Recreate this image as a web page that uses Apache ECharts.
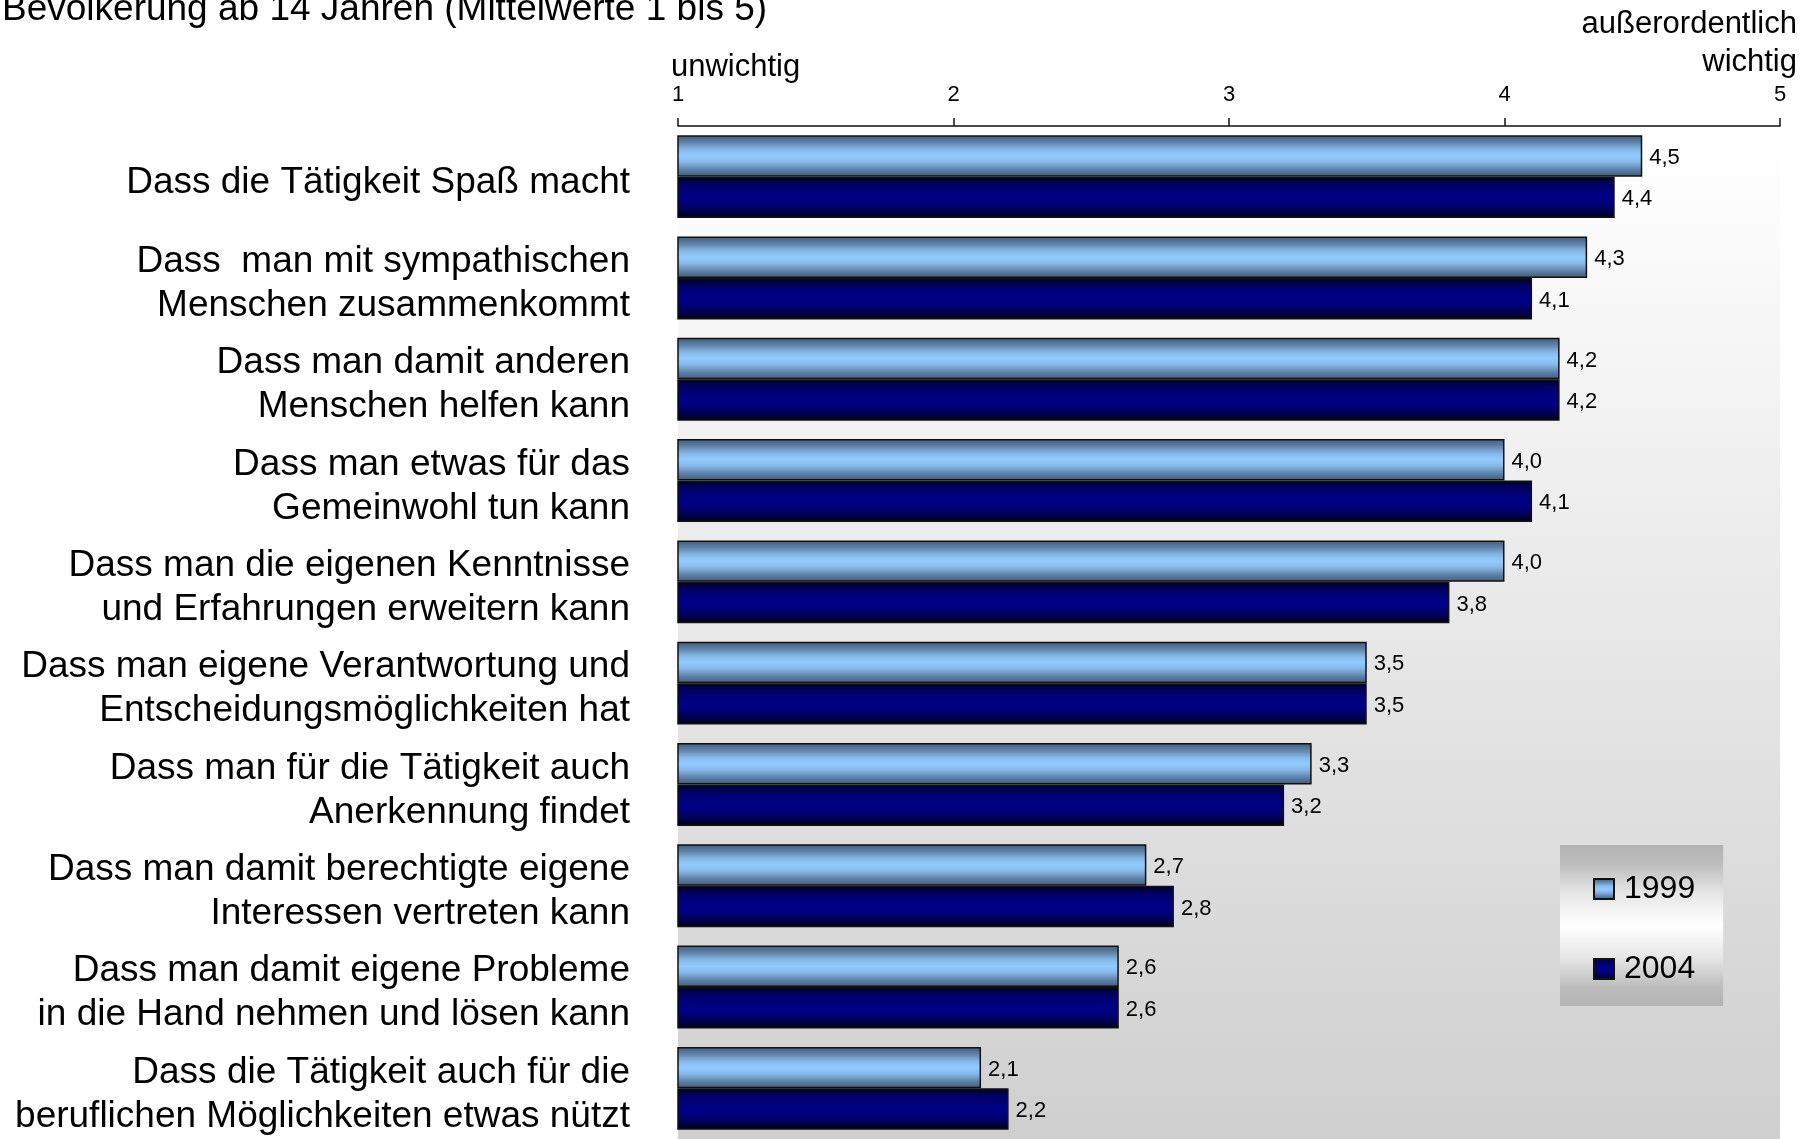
<!DOCTYPE html>
<html>
<head>
<meta charset="utf-8">
<script src="https://cdn.jsdelivr.net/npm/echarts@6/dist/echarts.min.js"></script>
<style>
html,body{margin:0;padding:0;background:#fff;}
#chart{width:1812px;height:1139px;}
</style>
</head>
<body>
<div id="chart"></div>
<script>
const categories = [
  "Dass die Tätigkeit Spaß macht",
  "Dass  man mit sympathischen\nMenschen zusammenkommt",
  "Dass man damit anderen\nMenschen helfen kann",
  "Dass man etwas für das\nGemeinwohl tun kann",
  "Dass man die eigenen Kenntnisse\nund Erfahrungen erweitern kann",
  "Dass man eigene Verantwortung und\nEntscheidungsmöglichkeiten hat",
  "Dass man für die Tätigkeit auch\nAnerkennung findet",
  "Dass man damit berechtigte eigene\nInteressen vertreten kann",
  "Dass man damit eigene Probleme\nin die Hand nehmen und lösen kann",
  "Dass die Tätigkeit auch für die\nberuflichen Möglichkeiten etwas nützt"
];
const values1999 = [4.5, 4.3, 4.2, 4.0, 4.0, 3.5, 3.3, 2.7, 2.6, 2.1];
const values2004 = [4.4, 4.1, 4.2, 4.1, 3.8, 3.5, 3.2, 2.8, 2.6, 2.2];
const seriesNames = ["1999", "2004"];
const axisMin = 1, axisMax = 5, axisInterval = 1;
const titleText = "Bevölkerung ab 14 Jahren (Mittelwerte 1 bis 5)";
const lowLabel = "unwichtig";
const highLabel = ["außerordentlich", "wichtig"];

const FONT = "'Liberation Sans', Arial, Helvetica, sans-serif";
const G = echarts.graphic.LinearGradient;

const fill1999 = new G(0, 0, 0, 1, [
  {offset: 0, color: '#445b78'},
  {offset: 0.15, color: '#5b7ca2'},
  {offset: 0.35, color: '#85b8e8'},
  {offset: 0.5, color: '#93cbff'},
  {offset: 0.65, color: '#85b8e8'},
  {offset: 0.85, color: '#5b7ca2'},
  {offset: 1, color: '#445b78'}
]);
const fill2004 = new G(0, 0, 0, 1, [
  {offset: 0, color: '#000026'},
  {offset: 0.2, color: '#000066'},
  {offset: 0.4, color: '#000082'},
  {offset: 0.6, color: '#000082'},
  {offset: 0.8, color: '#00005a'},
  {offset: 1, color: '#000016'}
]);

const fmt = p => p.value.toFixed(1).replace('.', ',');

const chart = echarts.init(document.getElementById('chart'), null, {renderer: 'canvas'});
chart.setOption({
  animation: false,
  backgroundColor: '#ffffff',
  textStyle: {fontFamily: FONT},
  grid: {
    left: 678, top: 126, width: 1102, height: 1017,
    show: true, borderWidth: 0,
    backgroundColor: new G(0, 0, 0, 1, [
      {offset: 0, color: '#ffffff'},
      {offset: 0.06, color: '#fdfdfd'},
      {offset: 1, color: '#cfcfcf'}
    ])
  },
  legend: {
    orient: 'vertical',
    left: 1560, top: 845,
    padding: [28, 28, 21, 33],
    itemWidth: 20, itemHeight: 20, itemGap: 48,
    icon: 'rect',
    data: seriesNames,
    textStyle: {fontSize: 32, color: '#000', fontFamily: FONT, lineHeight: 32, padding: [0,0,0,5]},
    backgroundColor: new G(0, 0, 0, 1, [
      {offset: 0, color: '#b3b3b3'},
      {offset: 0.12, color: '#bdbdbd'},
      {offset: 0.3, color: '#e6e6e6'},
      {offset: 0.5, color: '#ffffff'},
      {offset: 0.7, color: '#e6e6e6'},
      {offset: 0.88, color: '#bdbdbd'},
      {offset: 1, color: '#b3b3b3'}
    ])
  },
  xAxis: {
    type: 'value', position: 'top',
    min: axisMin, max: axisMax, interval: axisInterval,
    axisLine: {show: true, lineStyle: {color: '#111', width: 1.5}},
    axisTick: {show: true, length: 8, lineStyle: {color: '#111', width: 1.5}},
    axisLabel: {fontSize: 22, color: '#000', margin: 20, fontFamily: FONT},
    splitLine: {show: false}
  },
  yAxis: {
    type: 'category', inverse: true, data: categories,
    axisLine: {show: false}, axisTick: {show: false},
    axisLabel: {
      color: '#000', margin: 48, align: 'right',
      formatter: v => v.split('\n').map(s => '{a|' + s + '}').join('\n'),
      rich: {a: {fontSize: 37, lineHeight: 44, fontFamily: FONT, color: '#000', padding: [12, 0, 0, 0]}}
    }
  },
  series: [
    {
      name: seriesNames[0], type: 'bar', data: values1999,
      barGap: '0%', barCategoryGap: '18.2%',
      itemStyle: {color: fill1999, borderColor: '#111', borderWidth: 1.5},
      label: {show: true, position: 'right', distance: 7, offset: [0, 2], fontSize: 22, color: '#000', fontFamily: FONT, formatter: fmt}
    },
    {
      name: seriesNames[1], type: 'bar', data: values2004,
      barGap: '0%', barCategoryGap: '18.2%',
      itemStyle: {color: fill2004, borderColor: '#111', borderWidth: 1.5},
      label: {show: true, position: 'right', distance: 7, offset: [0, 2], fontSize: 22, color: '#000', fontFamily: FONT, formatter: fmt}
    }
  ],
  graphic: [
    {type: 'text', left: 2, top: -9, style: {text: titleText, font: "37px " + FONT, fill: '#000'}},
    {type: 'text', left: 671, top: 52, style: {text: lowLabel, font: "31px " + FONT, fill: '#000'}},
    {type: 'text', right: 15, top: 9, style: {text: highLabel[0], font: "31px " + FONT, fill: '#000', align: 'right'}},
    {type: 'text', right: 15, top: 47, style: {text: highLabel[1], font: "31px " + FONT, fill: '#000', align: 'right'}}
  ]
});
</script>
</body>
</html>
